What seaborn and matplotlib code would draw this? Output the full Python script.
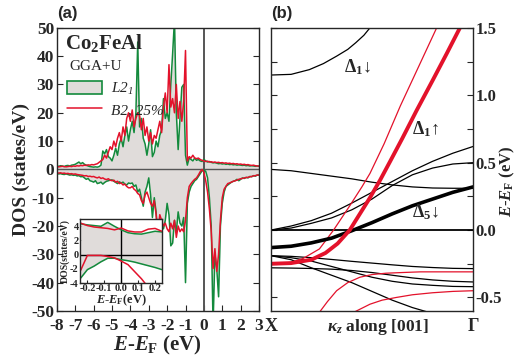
import numpy as np
import seaborn as sns
import matplotlib.pyplot as plt
from matplotlib.lines import Line2D
from matplotlib.patches import Patch
from matplotlib.ticker import MultipleLocator

# ---------------- DOS data (panel a), energy grid E-EF in eV ----------------
energy = np.round(np.arange(-8.0, 3.0001, 0.1), 1)

l21_up = [1.2, 1.1, 1.3, 1.2, 1.0, 1.3, 1.4, 1.2, 1.5, 1.6,
          1.8, 2.2, 2.6, 2.0, 2.4, 1.8, 1.5, 1.2, 1.0, 0.9,
          0.8, 0.9, 0.8, 1.0, 1.5, 6.5, 5.5, 7.0, 4.5, 4.0,
          3.0, 5.0, 7.5, 5.0, 9.0, 11.0, 8.0, 12.0, 15.0, 10.0,
          14.0, 17.0, 13.0, 20.0, 45.0, 15.0, 18.0, 11.0, 9.0, 5.0,
          9.0, 14.0, 4.5, 6.0, 10.0, 8.0, 12.0, 14.0, 25.0, 18.0,
          20.0, 17.0, 30.0, 41.0, 53.0, 20.0, 7.0, 18.0, 29.0, 30.0,
          5.0, 1.5, 4.0, 3.5, 3.0, 4.0, 3.2, 3.5, 3.0, 2.8,
          3.5, 3.0, 2.6, 2.8, 2.5, 2.3, 2.4, 2.2, 2.0, 2.1,
          1.9, 2.0, 1.8, 1.9, 1.7, 1.8, 1.6, 1.7, 1.5, 1.6,
          1.5, 1.4, 1.5, 1.3, 1.4, 1.2, 1.3, 1.2, 1.1, 1.2,
          1.1]

b2_up = [1.0, 0.9, 1.0, 1.1, 1.0, 0.9, 1.0, 1.1, 1.0, 1.2,
         1.1, 1.3, 1.2, 1.4, 1.3, 1.5, 1.4, 1.6, 1.5, 1.7,
         1.6, 1.8, 2.0, 2.5, 3.0, 3.5, 5.0, 4.0, 6.0, 8.0,
         7.0, 10.0, 8.0, 11.0, 13.0, 10.0, 15.0, 12.0, 18.0, 20.0,
         17.0, 21.0, 15.0, 18.0, 20.0, 19.0, 14.0, 18.0, 12.0, 15.0,
         10.0, 13.0, 9.0, 12.0, 11.0, 14.0, 17.0, 13.0, 22.0, 27.0,
         20.0, 37.0, 22.0, 25.0, 20.0, 30.0, 18.0, 24.0, 17.0, 24.0,
         42.0, 3.0, 4.5, 4.0, 5.0, 4.0, 3.8, 4.0, 3.5, 3.2,
         3.0, 2.8, 2.9, 2.6, 2.7, 2.5, 2.6, 2.4, 2.5, 2.3,
         2.4, 2.2, 2.3, 2.1, 2.2, 2.0, 2.1, 1.9, 2.0, 1.8,
         1.9, 1.7, 1.8, 1.6, 1.7, 1.5, 1.4, 1.5, 1.3, 1.2,
         1.2]

l21_dn = [-1.5, -1.6, -1.5, -1.7, -1.8, -1.6, -1.8, -2.0, -1.9, -2.1,
          -2.0, -2.3, -2.2, -2.6, -2.5, -3.0, -3.5, -3.2, -4.0, -4.2,
          -4.5, -4.0, -5.0, -4.8, -4.5, -5.2, -4.6, -4.2, -4.0, -3.8,
          -3.7, -4.2, -4.6, -5.0, -4.4, -4.8, -4.5, -5.2, -5.5, -4.8,
          -5.0, -4.8, -6.0, -5.5, -8.0, -7.0, -10.0, -13.0, -8.0, -6.0,
          -3.0, -9.0, -17.0, -10.0, -15.0, -27.0, -20.0, -19.0, -21.0, -18.0,
          -12.0, -16.0, -27.0, -26.0, -18.0, -22.0, -15.0, -19.0, -20.0, -17.0,
          -40.0, -12.0, -8.0, -6.0, -5.0, -4.0, -3.5, -2.5, -1.5, -0.5,
          -0.2, -0.7, -3.0, -10.0, -20.0, -55.0, -30.0, -35.0, -45.0, -20.0,
          -12.0, -8.0, -6.0, -5.5, -5.0, -4.5, -4.2, -4.0, -3.5, -4.0,
          -3.5, -3.0, -3.2, -2.8, -3.0, -2.5, -2.6, -2.2, -2.4, -2.0,
          -2.0]

b2_dn = [-1.2, -1.3, -1.2, -1.4, -1.3, -1.5, -1.4, -1.6, -1.5, -1.7,
         -1.6, -1.8, -1.9, -2.0, -2.1, -2.3, -2.2, -2.5, -2.4, -2.6,
         -2.5, -2.8, -3.0, -2.7, -3.2, -3.0, -3.4, -3.6, -3.3, -3.8,
         -4.0, -3.8, -4.5, -4.2, -5.0, -4.8, -5.5, -5.2, -6.0, -6.5,
         -6.5, -6.0, -7.0, -7.5, -8.5, -9.0, -11.0, -12.0, -9.0, -8.0,
         -10.0, -12.0, -13.0, -11.0, -16.0, -22.0, -16.0, -18.0, -20.0, -19.0,
         -21.0, -22.0, -19.0, -21.0, -18.0, -24.0, -20.0, -22.0, -21.0, -22.0,
         -18.0, -10.0, -6.0, -5.0, -4.2, -3.5, -3.0, -2.0, -0.8, 0.0,
         -1.0, -4.0, -8.0, -14.0, -22.0, -35.0, -28.0, -36.0, -30.0, -18.0,
         -10.0, -7.0, -6.0, -5.0, -4.8, -4.5, -4.2, -4.0, -3.8, -3.5,
         -3.3, -3.2, -3.0, -2.9, -2.8, -2.6, -2.5, -2.3, -2.2, -2.0,
         -2.0]

# inset (zoom around EF)
inset_e = [-0.24, -0.2, -0.16, -0.12, -0.08, -0.04, 0.0, 0.04, 0.08, 0.12, 0.16, 0.2, 0.24]
inset_l21_up = [4.35, 4.2, 4.1, 4.0, 4.55, 4.0, 3.5, 3.1, 2.95, 2.9, 3.1, 3.3, 3.2]
inset_b2_up = [4.45, 4.1, 3.9, 3.8, 3.7, 3.5, 3.75, 3.35, 3.2, 3.2, 3.6, 3.7, 3.3]
inset_l21_dn = [-3.3, -2.1, -1.6, -1.0, -0.5, -0.5, -0.7, -0.85, -1.05, -1.3, -1.55, -1.8, -2.1]
inset_b2_dn = [-2.2, -0.1, -0.1, -0.1, -0.25, -0.45, -0.9, -1.4, -2.4, -3.4, -4.6, -6.0, -7.0]

# ---------------- band structure data (panel b), k from X (0) to Gamma (1) ----------------
k_grid = [0.0, 0.1, 0.2, 0.3, 0.4, 0.5, 0.6, 0.7, 0.8, 0.9, 1.0]
d5_dn = [-0.13, -0.12, -0.095, -0.06, -0.005, 0.055, 0.12, 0.18, 0.23, 0.28, 0.32]
blk_a = [0.45, 0.44, 0.42, 0.40, 0.38, 0.355, 0.335, 0.32, 0.312, 0.31, 0.31]
blk_b = [0.0, 0.03, 0.07, 0.125, 0.2, 0.28, 0.36, 0.44, 0.51, 0.57, 0.62]
blk_c = [0.0, 0.015, 0.05, 0.09, 0.15, 0.23, 0.33, 0.41, 0.46, 0.49, 0.50]
blk_d = [-0.19, -0.195, -0.205, -0.218, -0.232, -0.245, -0.258, -0.27, -0.278, -0.284, -0.286]
blk_e = [-0.28, -0.282, -0.285, -0.29, -0.30, -0.315, -0.335, -0.355, -0.37, -0.38, -0.385]
blk_f = [-0.19, -0.205, -0.23, -0.27, -0.31, -0.35, -0.38, -0.40, -0.41, -0.418, -0.42]

k_steep = [0.0, 0.1, 0.2, 0.3, 0.4, 0.5, 0.6, 0.7, 0.78]
blk_steep = [-0.19, -0.22, -0.28, -0.335, -0.39, -0.455, -0.52, -0.575, -0.61]

k_d1dn = [0.0, 0.1, 0.19, 0.26, 0.325, 0.38, 0.42, 0.46, 0.49]
d1_dn = [1.15, 1.155, 1.19, 1.235, 1.29, 1.34, 1.39, 1.445, 1.5]

k_d1up = [0.0, 0.1, 0.2, 0.27, 0.33, 0.39, 0.44, 0.49, 0.54, 0.59, 0.65, 0.72, 0.8, 0.87, 0.935]
d1_up = [-0.25, -0.245, -0.22, -0.17, -0.10, 0.0, 0.12, 0.24, 0.37, 0.51, 0.68, 0.885, 1.11, 1.31, 1.5]

k_red_a = [0.0, 0.1, 0.16, 0.24, 0.31, 0.39, 0.45, 0.49, 0.56, 0.64, 0.73, 0.82]
red_a = [-0.25, -0.24, -0.21, -0.14, 0.0, 0.18, 0.32, 0.42, 0.64, 0.92, 1.21, 1.5]
k_red_b = [0.24, 0.28, 0.325, 0.38, 0.44, 0.5, 0.57, 0.65, 0.74, 0.85, 1.0]
red_b = [-0.61, -0.53, -0.45, -0.39, -0.35, -0.33, -0.32, -0.315, -0.31, -0.31, -0.31]
k_red_c = [0.41, 0.45, 0.49, 0.55, 0.62, 0.7, 0.8, 0.9, 1.0]
red_c = [-0.61, -0.58, -0.55, -0.52, -0.50, -0.48, -0.465, -0.455, -0.45]

green = '#138a3c'
red = '#e3122b'
fill_gray = '#e0dcda'
line_gray = '#555555'

sns.set_style("ticks")
plt.rcParams['font.family'] = ['Liberation Serif', 'DejaVu Serif']
plt.rcParams['font.weight'] = 'bold'
plt.rcParams['axes.labelweight'] = 'bold'
plt.rcParams['axes.unicode_minus'] = False
plt.rcParams['mathtext.fontset'] = 'custom'
plt.rcParams['mathtext.rm'] = 'Liberation Serif:bold'
plt.rcParams['mathtext.bf'] = 'Liberation Serif:bold'
plt.rcParams['mathtext.it'] = 'Liberation Serif:italic:bold'
plt.rcParams['axes.linewidth'] = 1.0

fig = plt.figure(figsize=(5.17, 3.57), dpi=100)
ax1 = fig.add_axes([0.110, 0.129, 0.391, 0.793])
ax2 = fig.add_axes([0.524, 0.129, 0.391, 0.793])

# ---------------- panel (a) ----------------
ax1.fill_between(energy, 0, l21_up, color=fill_gray, lw=0, zorder=1)
ax1.fill_between(energy, 0, l21_dn, color=fill_gray, lw=0, zorder=1)
ax1.axhline(0, color=line_gray, lw=1.0, zorder=1.5)
ax1.axvline(0, color=line_gray, lw=1.4, zorder=1.5)
for vals, col in [(l21_up, green), (l21_dn, green), (b2_up, red), (b2_dn, red)]:
    sns.lineplot(x=energy, y=vals, color=col, lw=1.1, ax=ax1, zorder=2)

ax1.set_xlim(-8, 3)
ax1.set_ylim(-50, 50)
ax1.set_xticks(np.arange(-8, 4, 1))
ax1.set_yticks(np.arange(-50, 51, 10))
ax1.tick_params(direction='in', length=4, width=0.8, labelsize=12.5, pad=2,
                right=True, top=False)
ax1.tick_params(axis='x', pad=5)
ax1.set_xlabel(r'$E$-$E_{\mathrm{F}}$ (eV)', fontsize=15, labelpad=0)
ax1.set_ylabel('DOS (states/eV)', fontsize=14, labelpad=1)

ax1.text(0.04, 0.945, r'Co$_{2}$FeAl', transform=ax1.transAxes, fontsize=15,
         va='center', ha='left')
ax1.text(0.064, 0.862, 'GGA+U', transform=ax1.transAxes, fontsize=11,
         fontweight='normal', va='center', ha='left')
handles = [Patch(facecolor=fill_gray, edgecolor=green, lw=1.2),
           Line2D([0], [0], color=red, lw=1.1)]
leg = ax1.legend(handles, [r'L2$_{\mathregular{1}}$', 'B2, 25%'], loc='upper left',
                 bbox_to_anchor=(0.02, 0.835), frameon=False, handlelength=2.3,
                 handleheight=0.9, labelspacing=0.35, borderaxespad=0, handletextpad=0.6,
                 prop={'family': 'Liberation Serif', 'size': 11, 'style': 'italic', 'weight': 'normal'})

# inset
axin = fig.add_axes([0.155, 0.207, 0.159, 0.179])
axin.fill_between(inset_e, 0, inset_l21_up, color=fill_gray, lw=0, zorder=1)
axin.fill_between(inset_e, 0, inset_l21_dn, color=fill_gray, lw=0, zorder=1)
axin.axhline(0, color='black', lw=1.0, zorder=1.5)
axin.axvline(0, color='black', lw=1.0, zorder=1.5)
for vals, col in [(inset_l21_up, green), (inset_l21_dn, green), (inset_b2_up, red), (inset_b2_dn, red)]:
    sns.lineplot(x=inset_e, y=vals, color=col, lw=1.1, ax=axin, zorder=2)
axin.set_xlim(-0.243, 0.243)
axin.set_ylim(-4, 5)
axin.set_xticks([-0.2, -0.1, 0.0, 0.1, 0.2])
axin.set_xticklabels(['-0.2', '-0.1', '0.0', '0.1', '0.2'])
axin.set_yticks([-4, -2, 0, 2, 4])
axin.tick_params(direction='in', length=2, labelsize=7.5, pad=1)
axin.set_xlabel(r'$E$-$E_{\mathrm{F}}$(eV)', fontsize=9, labelpad=-1)
axin.set_ylabel('DOS(states/eV)', fontsize=7, labelpad=0)

# ---------------- panel (b) ----------------
ax2.axhline(0, color='black', lw=1.3, zorder=1)
band_lines = [
    (k_grid, blk_a, 'black', 0.9), (k_grid, blk_b, 'black', 0.9), (k_grid, blk_c, 'black', 0.9),
    (k_grid, blk_d, 'black', 0.9), (k_grid, blk_e, 'black', 0.9), (k_grid, blk_f, 'black', 0.9),
    (k_steep, blk_steep, 'black', 0.9), (k_d1dn, d1_dn, 'black', 0.9),
    (k_red_a, red_a, red, 0.9), (k_red_b, red_b, red, 0.9), (k_red_c, red_c, red, 0.9),
    (k_grid, d5_dn, 'black', 2.6), (k_d1up, d1_up, red, 2.8),
]
for kx, ey, col, lw in band_lines:
    sns.lineplot(x=kx, y=ey, color=col, lw=lw, ax=ax2, zorder=2)

ax2.set_xlim(0, 1)
ax2.set_ylim(-0.6, 1.5)
ax2.set_xticks([0, 1])
ax2.set_xticklabels(['X', 'Γ'])
ax2.tick_params(axis='x', length=0, labelsize=13, pad=5)
ax2.yaxis.set_major_locator(MultipleLocator(0.5))
ax2.yaxis.set_minor_locator(MultipleLocator(0.25))
ax2.yaxis.set_major_formatter(plt.FormatStrFormatter('%.1f'))
ax2.tick_params(axis='y', which='both', direction='in', length=4, width=0.8,
                left=True, right=True, labelleft=False, labelright=True, labelsize=12, pad=2)
ax2.set_ylabel('')
fig.text(0.981, 0.493, r'$E$-$E_{\mathrm{F}}$ (eV)', fontsize=12, rotation=90,
         ha='center', va='center')
ax2.text(0.53, -0.055, r'$\kappa_{z}$ along [001]', transform=ax2.transAxes,
         fontsize=12.5, ha='center', va='center')

ax2.text(0.36, 1.21, r'Δ$_{1}$↓', fontsize=13, ha='left', va='center')
ax2.text(0.70, 0.75, r'Δ$_{1}$↑', fontsize=13, ha='left', va='center')
ax2.text(0.70, 0.13, r'Δ$_{5}$↓', fontsize=13, ha='left', va='center')

fig.text(0.110, 0.962, '(a)', family='Liberation Sans', fontsize=12, va='center')
fig.text(0.524, 0.962, '(b)', family='Liberation Sans', fontsize=12, va='center')

fig.savefig('out.png', dpi=100)
